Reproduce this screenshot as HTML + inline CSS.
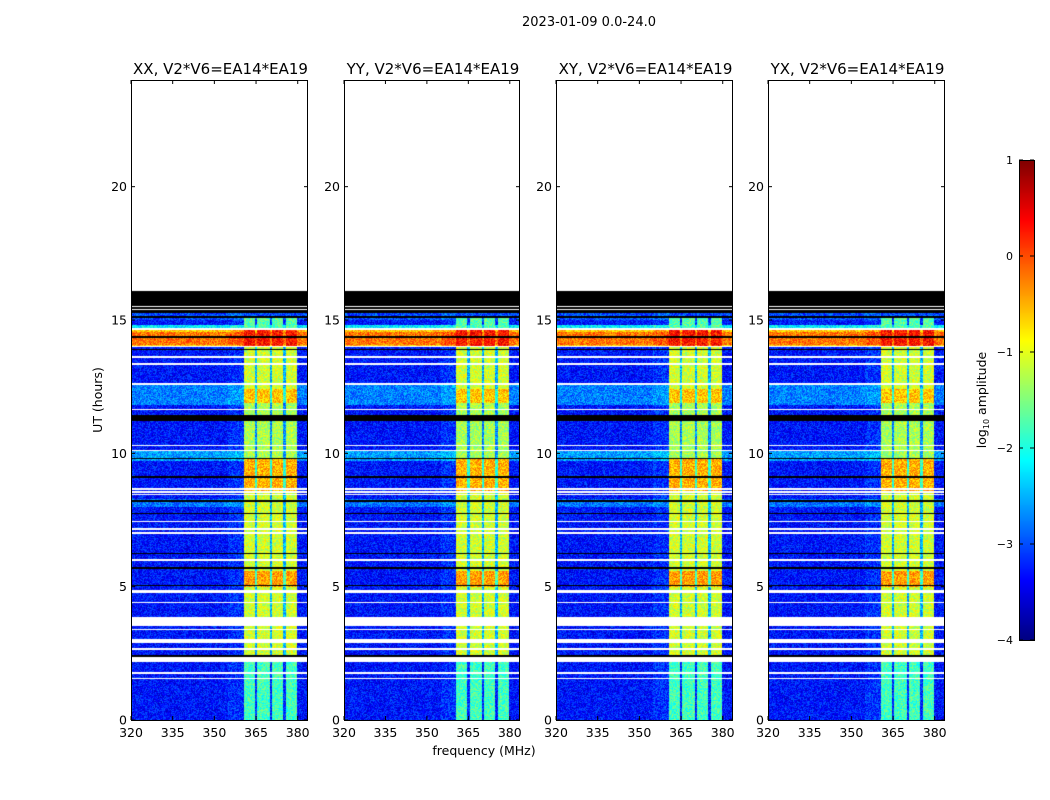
<!DOCTYPE html>
<html><head><meta charset="utf-8">
<style>
body{margin:0;background:#fff;width:1050px;height:800px;overflow:hidden;position:relative;font-family:"DejaVu Sans","Liberation Sans",sans-serif}
canvas{position:absolute}
svg{position:absolute;left:0;top:0}
</style></head><body>
<div>
<canvas id="p0" width="177" height="640" style="left:131px;top:80px"></canvas>
<canvas id="p1" width="176" height="640" style="left:344px;top:80px"></canvas>
<canvas id="p2" width="177" height="640" style="left:556px;top:80px"></canvas>
<canvas id="p3" width="177" height="640" style="left:768px;top:80px"></canvas>
<canvas id="cb" width="15" height="480" style="left:1019px;top:160px"></canvas>
<svg id="ov" width="1050" height="800"></svg>
</div>
<script>
// ---- data (hours, MHz, log10 amplitude) ----
const panelTitles = ["XX, V2*V6=EA14*EA19","YY, V2*V6=EA14*EA19","XY, V2*V6=EA14*EA19","YX, V2*V6=EA14*EA19"];
const xTicks = [320,335,350,365,380];
const yTicks = [0,5,10,15,20];
const cbTicks = [1,0,-1,-2,-3,-4];
const dataEnd = 16.13;
const blackBand = [15.25,16.13];
const whiteLines = [[16.1,16.16],[15.47,15.52],[15.36,15.41],[14.64,14.69],[13.97,14.02],[13.59,13.64],[13.33,13.38],[12.58,12.63],[11.61,11.66],[10.26,10.31],[10.07,10.12],[8.64,8.69],[8.53,8.58],[8.42,8.47],[7.41,7.46],[7.14,7.19],[6.97,7.05],[5.98,6.03],[4.76,4.87],[4.37,4.42],[3.53,3.86],[3.36,3.41],[2.89,3.04],[2.64,2.69],[2.17,2.36],[1.74,1.79],[1.52,1.57]];
const blackLines = [[15.09,15.14],[14.34,14.39],[13.86,13.91],[11.3,11.42],[11.23,11.28],[9.77,9.82],[9.09,9.14],[8.19,8.24],[7.71,7.76],[6.21,6.26],[5.68,5.73],[5.01,5.06],[2.38,2.43]];
const baseStart = [0,11.8,9.7,8.0,14.7,14.0,14.05,15.0];
const baseEnd   = [16.2,12.6,10.1,8.3,14.8,14.65,14.55,15.25];
const baseLevel = [-3.3,-2.75,-2.6,-2.8,-2.2,-0.6,-0.2,-3.0];
const bandFreqLo = 360.5, bandFreqHi = 379.7;
const gapFreqs = [365.0,370.3,375.2];
const bandStart = [0,2.3,5.0,5.6,8.6,9.8,11.9,12.4,14.0,14.7];
const bandEnd   = [2.3,5.0,5.6,8.6,9.8,11.9,12.4,14.0,14.7,15.1];
const bandLevel = [-1.8,-1.1,-0.4,-1.1,-0.5,-1.3,-0.6,-1.1,0.3,-1.7];
const fMin=320,fMax=383.7,tMin=0,tMax=24;

function jet(v){let t=(v+4)/5;t=Math.max(0,Math.min(1,t));
 const c=x=>Math.round(255*Math.max(0,Math.min(1,1.5-Math.abs(x))));
 return [c(4*t-3),c(4*t-2),c(4*t-1)];}
function hash(a,b){let h=(a*374761393+b*668265263)|0;h=(h^(h>>>13))*1274126177|0;h^=h>>>16;return ((h>>>0)%1000)/1000;}
function inAny(h,list){for(const r of list) if(h>=r[0]&&h<r[1]) return true;return false;}

function drawPanel(id,pi){
 const cv=document.getElementById(id),ctx=cv.getContext('2d'),W=cv.width,H=cv.height;
 const img=ctx.createImageData(W,H);
 const xToF=x=>fMin+(x+0.5)/W*(fMax-fMin), yToT=y=>tMax-(y+0.5)/H*(tMax-tMin);
 for(let y=0;y<H;y++){const h=yToT(y);
  for(let x=0;x<W;x++){const f=xToF(x);let col;
   if(h>dataEnd) col=[255,255,255];
   else if(inAny(h,whiteLines)) col=[255,255,255];
   else if(inAny(h,blackLines)||(h>=blackBand[0]&&h<blackBand[1])) col=[0,0,0];
   else{
    let v=baseLevel[0];
    for(let i=1;i<baseStart.length;i++) if(h>=baseStart[i]&&h<baseEnd[i]) v=Math.max(v,baseLevel[i]);
    if(f>=bandFreqLo&&f<=bandFreqHi){
     let gap=false;for(const g of gapFreqs) if(Math.abs(f-g)<0.45) gap=true;
     for(let i=0;i<bandStart.length;i++) if(h>=bandStart[i]&&h<bandEnd[i]) v=Math.max(v,gap?bandLevel[i]-1.4:bandLevel[i]);
    } else if(f>355&&f<bandFreqLo) v+=0.15;
    v+=(hash(x+pi*977,y)-0.5)*0.8;
    col=jet(v);}
   const k=(y*W+x)*4;img.data[k]=col[0];img.data[k+1]=col[1];img.data[k+2]=col[2];img.data[k+3]=255;}}
 ctx.putImageData(img,0,0);
}
['p0','p1','p2','p3'].forEach((id,i)=>drawPanel(id,i));
(function(){const cv=document.getElementById('cb'),ctx=cv.getContext('2d');
 for(let y=0;y<480;y++){const c=jet(1-y/480*5);ctx.fillStyle=`rgb(${c})`;ctx.fillRect(0,y,15,1);}})();

const NS='http://www.w3.org/2000/svg',ov=document.getElementById('ov');
function el(tag,attrs,txt){const e=document.createElementNS(NS,tag);for(const k in attrs)e.setAttribute(k,attrs[k]);if(txt!==undefined)e.textContent=txt;ov.appendChild(e);return e;}
const panelX=[131,344,556,768],panelW=[177,176,177,177],pTop=80,pBot=720;
panelX.forEach((px,pi)=>{
 const w=panelW[pi];
 const fx=f=>px+(f-fMin)/(fMax-fMin)*w, ty=t=>pBot-(t-tMin)/(tMax-tMin)*(pBot-pTop);
 const fr=el('rect',{x:px+0.5,y:pTop+0.5,width:w-1,height:pBot-pTop,fill:'none',stroke:'#000','stroke-width':1});
 
 
 const tt=el('text',{x:px+w/2+1,y:74,'text-anchor':'middle','font-size':15},panelTitles[pi]);
 
 
 xTicks.forEach(v=>{const x=fx(v);
  el('line',{x1:x,x2:x,y1:pBot,y2:pBot-4,stroke:'#000'});el('line',{x1:x,x2:x,y1:pTop,y2:pTop+4,stroke:'#000'});
  const t=el('text',{x:x,y:737,'text-anchor':'middle','font-size':12.5},v);
  
  });
 yTicks.forEach(v=>{const y=ty(v);
  el('line',{x1:px,x2:px+4,y1:y,y2:y,stroke:'#000'});el('line',{x1:px+w,x2:px+w-4,y1:y,y2:y,stroke:'#000'});
  const t=el('text',{x:px-4,y:y+4.5,'text-anchor':'end','font-size':12.5},v);
  
  });
});
const st=el('text',{x:589,y:26,'text-anchor':'middle','font-size':13},'2023-01-09 0.0-24.0');


const xl=el('text',{x:484,y:755,'text-anchor':'middle','font-size':12.5},'frequency (MHz)');


const yl=el('text',{x:0,y:0,'text-anchor':'middle','font-size':12.5,transform:'translate(102,400) rotate(-90)'},'UT (hours)');


el('rect',{x:1019.5,y:160.5,width:15,height:480,fill:'none',stroke:'#000'});
cbTicks.forEach(v=>{const y=160+(1-v)/5*480;
 el('line',{x1:1019,x2:1023,y1:y,y2:y,stroke:'#000'});el('line',{x1:1034,x2:1030,y1:y,y2:y,stroke:'#000'});
 const t=el('text',{x:1013,y:y+4,'text-anchor':'end','font-size':11},v<0?'\u2212'+(-v):v);
 
 });
const cl=el('text',{x:0,y:0,'font-size':12.5,'text-anchor':'middle',transform:'translate(986,400) rotate(-90)'});


cl.innerHTML='log<tspan font-size="8" dy="3">10</tspan><tspan dy="-3"> amplitude</tspan>';
</script>
</body></html>
